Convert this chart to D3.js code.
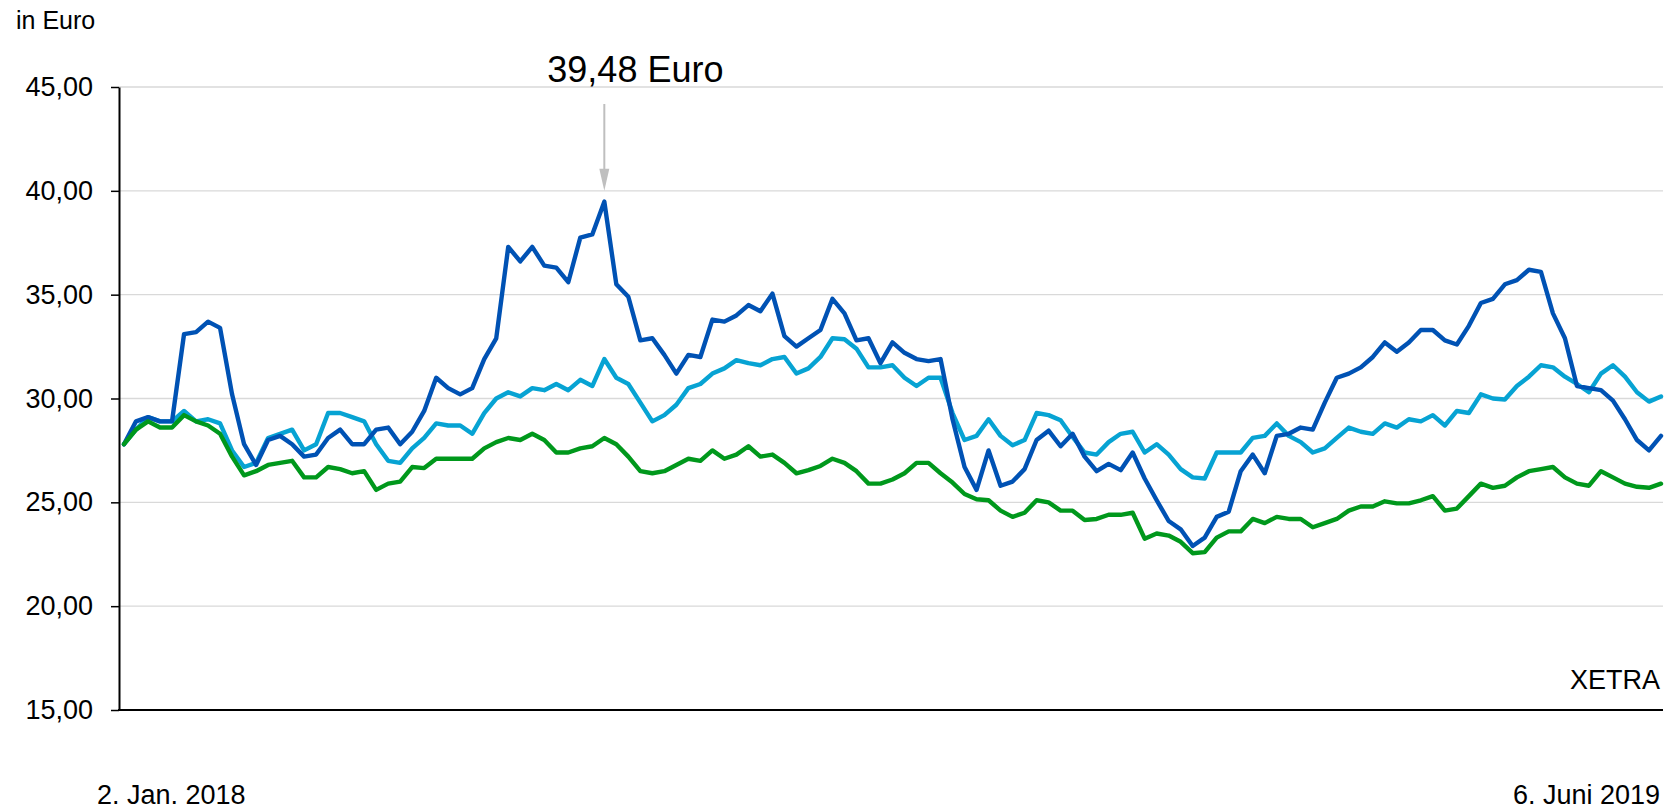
<!DOCTYPE html>
<html lang="de">
<head>
<meta charset="utf-8">
<script src="https://cdn.jsdelivr.net/npm/d3@7"></script>
<style>
	body { margin: 0; background: #fff; }
	svg text { font-family: "Liberation Sans", Arial, sans-serif; fill: #000; }
</style>
</head>
<body>
<div id="visHolder"></div>
<script>
// y axis ticks (Euro) and the two date labels under the axis
const yTicks = [15, 20, 25, 30, 35, 40, 45];
const xLabels = ["2. Jan. 2018", "6. Juni 2019"];

// closing prices, one value every few trading days
const aktie = [
	27.8, 28.9, 29.1, 28.9, 28.9, 33.1, 33.2, 33.7, 33.4, 30.2,
	27.8, 26.8, 28.0, 28.2, 27.8, 27.2, 27.3, 28.1, 28.5, 27.8,
	27.8, 28.5, 28.6, 27.8, 28.4, 29.4, 31.0, 30.5, 30.2, 30.5,
	31.9, 32.9, 37.3, 36.6, 37.3, 36.4, 36.3, 35.6, 37.75, 37.9,
	39.48, 35.5, 34.9, 32.8, 32.9, 32.1, 31.2, 32.1, 32.0, 33.8,
	33.7, 34.0, 34.5, 34.2, 35.05, 33.0, 32.5, 32.9, 33.3, 34.8,
	34.1, 32.8, 32.9, 31.7, 32.7, 32.2, 31.9, 31.8, 31.9, 29.0,
	26.7, 25.6, 27.5, 25.8, 26.0, 26.6, 28.0, 28.45, 27.7, 28.3,
	27.2, 26.5, 26.85, 26.55, 27.4, 26.15, 25.1, 24.1, 23.7, 22.9,
	23.3, 24.3, 24.55, 26.5, 27.3, 26.4, 28.2, 28.3, 28.6, 28.5,
	29.8, 31.0, 31.2, 31.5, 32.0, 32.7, 32.25, 32.7, 33.3, 33.3,
	32.8, 32.6, 33.5, 34.6, 34.8, 35.5, 35.7, 36.2, 36.1, 34.1,
	32.9, 30.6, 30.5, 30.4, 29.9, 29.0, 28.0, 27.5, 28.2,
];
const indexHellblau = [
	27.8, 28.5, 29.1, 28.9, 28.9, 29.4, 28.9, 29.0, 28.8, 27.5,
	26.7, 26.9, 28.1, 28.3, 28.5, 27.5, 27.8, 29.3, 29.3, 29.1,
	28.9, 27.8, 27.0, 26.9, 27.6, 28.1, 28.8, 28.7, 28.7, 28.3,
	29.3, 30.0, 30.3, 30.1, 30.5, 30.4, 30.7, 30.4, 30.9, 30.6,
	31.9, 31.0, 30.7, 29.8, 28.9, 29.2, 29.7, 30.5, 30.7, 31.2,
	31.45, 31.85, 31.7, 31.6, 31.9, 32.0, 31.2, 31.45, 32.0, 32.9,
	32.85, 32.4, 31.5, 31.5, 31.6, 31.0, 30.6, 31.0, 31.0, 29.3,
	28.0, 28.2, 29.0, 28.2, 27.75, 28.0, 29.3, 29.2, 28.95, 28.15,
	27.4, 27.3, 27.9, 28.3, 28.4, 27.4, 27.8, 27.3, 26.6, 26.2,
	26.15, 27.4, 27.4, 27.4, 28.1, 28.2, 28.8, 28.2, 27.9, 27.4,
	27.6, 28.1, 28.6, 28.4, 28.3, 28.8, 28.6, 29.0, 28.9, 29.2,
	28.7, 29.4, 29.3, 30.2, 30.0, 29.95, 30.6, 31.05, 31.6, 31.5,
	31.05, 30.7, 30.3, 31.2, 31.6, 31.05, 30.3, 29.85, 30.1,
];
const indexGruen = [
	27.8, 28.5, 28.9, 28.6, 28.6, 29.2, 28.9, 28.7, 28.3, 27.2,
	26.3, 26.5, 26.8, 26.9, 27.0, 26.2, 26.2, 26.7, 26.6, 26.4,
	26.5, 25.6, 25.9, 26.0, 26.7, 26.65, 27.1, 27.1, 27.1, 27.1,
	27.6, 27.9, 28.1, 28.0, 28.3, 28.0, 27.4, 27.4, 27.6, 27.7,
	28.1, 27.8, 27.2, 26.5, 26.4, 26.5, 26.8, 27.1, 27.0, 27.5,
	27.1, 27.3, 27.7, 27.2, 27.3, 26.9, 26.4, 26.55, 26.75, 27.1,
	26.9, 26.5, 25.9, 25.9, 26.1, 26.4, 26.9, 26.9, 26.4, 25.95,
	25.4, 25.15, 25.1, 24.6, 24.3, 24.5, 25.1, 25.0, 24.6, 24.6,
	24.15, 24.2, 24.4, 24.4, 24.5, 23.25, 23.5, 23.4, 23.1, 22.55,
	22.6, 23.3, 23.6, 23.6, 24.2, 24.0, 24.3, 24.2, 24.2, 23.8,
	24.0, 24.2, 24.6, 24.8, 24.8, 25.05, 24.95, 24.95, 25.1, 25.3,
	24.6, 24.7, 25.3, 25.9, 25.7, 25.8, 26.2, 26.5, 26.6, 26.7,
	26.2, 25.9, 25.8, 26.5, 26.2, 25.9, 25.75, 25.7, 25.9,
];

const options = {
	dimensions: {
		width: 1667,
		height: 811,
	},
	padding: {
		top: 87,
		right: 4,
		bottom: 101,
		left: 119,
	},
	lineInset: {
		left: 5,
		right: 2,
	},
	colors: ["#0052b4", "#07a3d3", "#00981c"],
	drawOrder: [1, 0, 2],
	lineWidth: 4.4,
	fontSize: 27,
	unitLabel: "in Euro",
	sourceLabel: "XETRA",
	arrowColor: "#bfbfbf",
};

const series = [aktie, indexHellblau, indexGruen];

LineChart(series, options);

function LineChart(
	series,
	{ dimensions, padding, lineInset, colors, drawOrder, lineWidth, fontSize, unitLabel, sourceLabel, arrowColor }
) {
	const de = d3.formatLocale({
		decimal: ",",
		thousands: ".",
		grouping: [3],
		currency: ["", " €"],
	});
	const fmt = de.format(".2f");

	const plotRight = dimensions.width - padding.right;
	const plotBottom = dimensions.height - padding.bottom;

	//create svg
	const svg = d3
		.select("#visHolder")
		.append("svg")
		.attr("width", dimensions.width)
		.attr("height", dimensions.height)
		.attr("viewBox", [0, 0, dimensions.width, dimensions.height]);

	//scales
	const n = series[0].length;
	const x = d3
		.scaleLinear()
		.domain([0, n - 1])
		.range([padding.left + lineInset.left, plotRight - lineInset.right]);
	const y = d3
		.scaleLinear()
		.domain(d3.extent(yTicks))
		.range([plotBottom, padding.top]);

	//gridlines
	svg
		.append("g")
		.selectAll("line")
		.data(yTicks.filter((t) => t !== yTicks[0]))
		.join("line")
		.attr("x1", padding.left)
		.attr("x2", plotRight)
		.attr("y1", (d) => y(d))
		.attr("y2", (d) => y(d))
		.attr("stroke", "#d9d9d9")
		.attr("stroke-width", 1.3);

	//y axis
	const yAxis = svg
		.append("g")
		.attr("transform", `translate(${padding.left},0)`)
		.call(
			d3
				.axisLeft(y)
				.tickValues(yTicks)
				.tickFormat(fmt)
				.tickSize(8)
				.tickSizeOuter(0)
				.tickPadding(18)
		);
	yAxis.select(".domain").attr("stroke", "#000").attr("stroke-width", 2);
	yAxis.selectAll(".tick line").attr("stroke", "#000").attr("stroke-width", 1.5);
	yAxis
		.selectAll(".tick text")
		.attr("font-size", fontSize)
		.attr("font-family", null)
		.attr("fill", "#000");

	//x axis line
	svg
		.append("line")
		.attr("x1", padding.left - 1)
		.attr("x2", plotRight)
		.attr("y1", plotBottom)
		.attr("y2", plotBottom)
		.attr("stroke", "#000")
		.attr("stroke-width", 2);

	//lines
	const line = d3
		.line()
		.x((_d, i) => x(i))
		.y((d) => y(d));

	svg
		.append("g")
		.selectAll("path")
		.data(drawOrder)
		.join("path")
		.attr("d", (k) => line(series[k]))
		.attr("fill", "none")
		.attr("stroke", (k) => colors[k])
		.attr("stroke-width", lineWidth)
		.attr("stroke-linejoin", "round")
		.attr("stroke-linecap", "round");

	//labels
	svg
		.append("text")
		.attr("x", 16)
		.attr("y", 29)
		.attr("font-size", 25)
		.text(unitLabel);

	svg
		.append("text")
		.attr("x", plotRight - 3)
		.attr("y", plotBottom - 21)
		.attr("text-anchor", "end")
		.attr("font-size", fontSize)
		.text(sourceLabel);

	svg
		.append("text")
		.attr("x", padding.left - 22)
		.attr("y", plotBottom + 94)
		.attr("font-size", fontSize)
		.text(xLabels[0]);

	svg
		.append("text")
		.attr("x", plotRight - 3)
		.attr("y", plotBottom + 94)
		.attr("text-anchor", "end")
		.attr("font-size", fontSize)
		.text(xLabels[1]);

	//peak annotation
	const peak = d3.maxIndex(series[0]);
	const px = x(peak);
	const tipY = y(series[0][peak]) - 11;
	const topY = y(yTicks[yTicks.length - 1]) + 17;

	svg
		.append("line")
		.attr("x1", px)
		.attr("x2", px)
		.attr("y1", topY)
		.attr("y2", tipY - 20)
		.attr("stroke", arrowColor)
		.attr("stroke-width", 2);
	svg
		.append("path")
		.attr("d", `M${px - 5},${tipY - 22}L${px + 5},${tipY - 22}L${px},${tipY}Z`)
		.attr("fill", arrowColor);

	svg
		.append("text")
		.attr("x", px - 57)
		.attr("y", padding.top - 5)
		.attr("font-size", 36)
		.text(`${fmt(series[0][peak])} Euro`);
}
</script>
</body>
</html>
